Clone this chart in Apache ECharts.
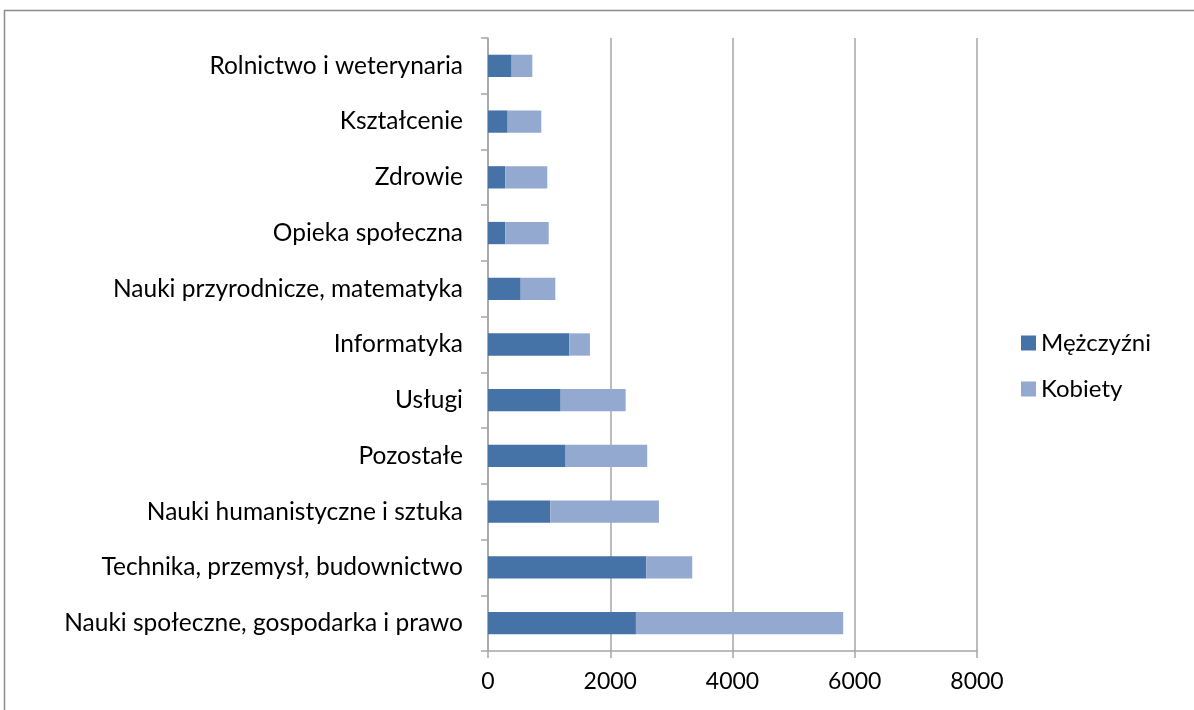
<!DOCTYPE html>
<html><head><meta charset="utf-8">
<script src="https://cdn.jsdelivr.net/npm/echarts@6/dist/echarts.min.js"></script>
<style>html,body{margin:0;padding:0;background:#fff}#c{width:1194px;height:710px}</style>
</head><body><div id="c"></div>
<script>
const categories = ["Rolnictwo i weterynaria","Kształcenie","Zdrowie","Opieka społeczna","Nauki przyrodnicze, matematyka","Informatyka","Usługi","Pozostałe","Nauki humanistyczne i sztuka","Technika, przemysł, budownictwo","Nauki społeczne, gospodarka i prawo"];
const men =   [387, 322, 283, 283, 535, 1330, 1189, 1270, 1019, 2589, 2420];
const women = [338, 550, 687, 710, 566, 338, 1063, 1335, 1777, 752, 3391];
const xTicks = [0, 2000, 4000, 6000, 8000];
const seriesNames = ["Mężczyźni","Kobiety"];

const font = "Lato, 'Open Sans', sans-serif";
const chart = echarts.init(document.getElementById('c'), null, {renderer:'canvas'});
chart.setOption({
  animation:false,
  backgroundColor:'#fff',
  graphic:[{type:'rect',shape:{x:4.5,y:10.5,width:1200,height:710},style:{fill:'none',stroke:'#8c8c8c',lineWidth:1.5},silent:true}],
  grid:{left:488,right:217,top:38,bottom:59,containLabel:false},
  xAxis:{type:'value',min:xTicks[0],max:xTicks[xTicks.length-1],interval:xTicks[1]-xTicks[0],
    axisLine:{show:true,lineStyle:{color:'#a6a6a6',width:1.5}},
    axisTick:{show:true,length:7,lineStyle:{color:'#a6a6a6',width:1.5}},
    axisLabel:{color:'#000',fontSize:23,fontFamily:font,margin:19,formatter:function(v){return String(v);}},
    splitLine:{show:true,lineStyle:{color:'#a6a6a6',width:1.5}}},
  yAxis:{type:'category',data:categories,inverse:true,
    axisLine:{show:true,lineStyle:{color:'#a6a6a6',width:1.5}},
    axisTick:{show:true,length:7,lineStyle:{color:'#a6a6a6',width:1.5}},
    axisLabel:{color:'#000',fontSize:24.5,fontFamily:font,margin:25}},
  legend:{orient:'vertical',left:1016,top:326,itemWidth:15,itemHeight:15,itemGap:22,
    icon:'rect',textStyle:{color:'#000',fontSize:24,fontFamily:font,padding:[0,0,0,0]},
    data:seriesNames},
  series:[
    {name:seriesNames[0],type:'bar',stack:'a',data:men,barCategoryGap:'60%',itemStyle:{color:'#4573a7'}},
    {name:seriesNames[1],type:'bar',stack:'a',data:women,barCategoryGap:'60%',itemStyle:{color:'#94a9cf'}}
  ]
});
</script></body></html>
